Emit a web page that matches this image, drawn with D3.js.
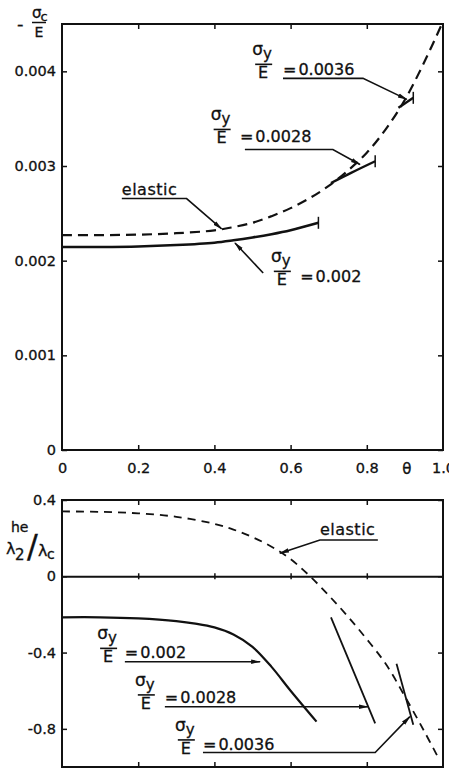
<!DOCTYPE html>
<html>
<head>
<meta charset="utf-8">
<script src="https://cdn.jsdelivr.net/npm/d3@7"></script>
<style>
    body { margin: 0; background: #fff; }
    svg text { font-family: "DejaVu Sans", sans-serif; fill: #111; stroke: #111; stroke-width: 0.3; }
</style>
</head>
<body>
<div id="chart"></div>
<script>
//Ticks
let theta_ticks = [0, 0.2, 0.4, 0.6, 0.8, 1.0];
let stress_ticks = [0, 0.001, 0.002, 0.003, 0.004];
let ratio_ticks = [0.4, 0, -0.4, -0.8];

//Panel superior: -sigma_c / E frente a theta
let elastic_top = [[0, 0.00227], [0.1, 0.00227], [0.2, 0.002275], [0.3, 0.00229], [0.4, 0.00232], [0.45, 0.002355], [0.5, 0.0024], [0.55, 0.00247], [0.6, 0.002555], [0.65, 0.00266], [0.7, 0.00279], [0.75, 0.00295], [0.8, 0.00314], [0.85, 0.00339], [0.9, 0.0037], [0.95, 0.00409], [0.997, 0.0045]];
let yield_002_top = [[0, 0.002145], [0.1, 0.002145], [0.2, 0.00215], [0.3, 0.002165], [0.4, 0.00219], [0.45, 0.002215], [0.5, 0.002245], [0.55, 0.00228], [0.6, 0.002322], [0.673, 0.0024]];
let yield_0028_top = [[0.706, 0.00282], [0.76, 0.00293], [0.822, 0.00305]];
let yield_0036_top = [[0.883, 0.003615], [0.922, 0.00372]];

//Panel inferior: lambda_2^he / lambda_c frente a theta
let elastic_bottom = [[0, 0.34], [0.1, 0.338], [0.2, 0.33], [0.3, 0.312], [0.4, 0.275], [0.45, 0.245], [0.5, 0.205], [0.55, 0.155], [0.6, 0.09], [0.651, 0], [0.7, -0.1], [0.75, -0.21], [0.8, -0.33], [0.85, -0.46], [0.9, -0.63], [0.95, -0.81], [0.99, -0.96]];
let yield_002_bottom = [[0, -0.215], [0.1, -0.215], [0.2, -0.221], [0.3, -0.235], [0.35, -0.248], [0.4, -0.268], [0.45, -0.305], [0.5, -0.37], [0.55, -0.475], [0.6, -0.6], [0.668, -0.762]];
let yield_0028_bottom = [[0.706, -0.215], [0.822, -0.771]];
let yield_0036_bottom = [[0.878, -0.459], [0.922, -0.779]];

let W = 449, H = 770;
let margin = {left: 62, right: 6};
let topPanel = {top: 24, bottom: 450};
let bottomPanel = {top: 500, bottom: 767};

let svg = d3.select('#chart').append('svg')
    .attr('width', W)
    .attr('height', H);

//Flecha para las etiquetas
svg.append('defs').append('marker')
    .attr('id', 'arrow')
    .attr('markerUnits', 'userSpaceOnUse')
    .attr('viewBox', '0 -4 10 8')
    .attr('markerWidth', 10)
    .attr('markerHeight', 8)
    .attr('refX', 9)
    .attr('refY', 0)
    .attr('orient', 'auto')
    .append('path')
    .attr('d', 'M0,-2.2L10,0L0,2.2Z')
    .attr('fill', '#111');

let x = d3.scaleLinear().domain([0, 1]).range([margin.left, W - margin.right]);
let yTop = d3.scaleLinear().domain([0, 0.0045]).range([topPanel.bottom, topPanel.top]);
let yBottom = d3.scaleLinear().domain([-1.0, 0.4]).range([bottomPanel.bottom, bottomPanel.top]);

let line = function(y) {
    return d3.line()
        .x(function(d) { return x(d[0]); })
        .y(function(d) { return y(d[1]); })
        .curve(d3.curveCatmullRom.alpha(0.5));
};

function cleanAxis(g) {
    g.select('.domain').remove();
    g.selectAll('.tick line').attr('stroke', '#111').attr('stroke-width', 1.5);
    g.selectAll('.tick text').attr('font-size', 14.5).attr('fill', '#111');
}

function drawFrame(y, panel, yTicks, yFormat, showX) {
    let inner = theta_ticks.slice(1, -1);
    svg.append('g')
        .attr('transform', `translate(0,${panel.bottom})`)
        .call(d3.axisBottom(x).tickValues(showX ? theta_ticks : inner).tickSize(-5).tickPadding(13)
            .tickFormat(function(d) { return showX ? (d === 0 ? '0' : d.toFixed(1)) : ''; }))
        .call(cleanAxis)
        .call(function(g) {
            g.selectAll('.tick line').filter(function(d) { return d === 0 || d === 1; }).remove();
        });
    svg.append('g')
        .attr('transform', `translate(0,${panel.top})`)
        .call(d3.axisTop(x).tickValues(inner).tickSize(-5).tickFormat(''))
        .call(cleanAxis);
    svg.append('g')
        .attr('transform', `translate(${margin.left},0)`)
        .call(d3.axisLeft(y).tickValues(yTicks).tickSize(-5).tickPadding(6).tickFormat(yFormat))
        .call(cleanAxis);
    svg.append('g')
        .attr('transform', `translate(${W - margin.right},0)`)
        .call(d3.axisRight(y).tickValues(yTicks).tickSize(-5).tickFormat(''))
        .call(cleanAxis);
    svg.append('rect')
        .attr('x', margin.left)
        .attr('y', panel.top)
        .attr('width', W - margin.left - margin.right)
        .attr('height', panel.bottom - panel.top)
        .attr('fill', 'none')
        .attr('stroke', '#111')
        .attr('stroke-width', 2);
}

function drawCurve(data, y, width, dash) {
    svg.append('path')
        .datum(data)
        .attr('d', line(y))
        .attr('fill', 'none')
        .attr('stroke', '#111')
        .attr('stroke-width', width)
        .attr('stroke-dasharray', dash || null);
}

function endBar(data, y) {
    let last = data[data.length - 1];
    svg.append('line')
        .attr('x1', x(last[0])).attr('x2', x(last[0]))
        .attr('y1', y(last[1]) - 6).attr('y2', y(last[1]) + 6)
        .attr('stroke', '#111')
        .attr('stroke-width', 1.5);
}

function leader(points, y) {
    svg.append('path')
        .datum(points)
        .attr('d', d3.line().x(function(d) { return x(d[0]); }).y(function(d) { return y(d[1]); }))
        .attr('fill', 'none')
        .attr('stroke', '#111')
        .attr('stroke-width', 1.6)
        .attr('marker-end', 'url(#arrow)');
}

//Etiqueta tipo sigma_y / E = valor
function yieldLabel(cx, barV, textX, textV, value, y) {
    let g = svg.append('g');
    let bx = x(cx), by = y(barV);
    let s = g.append('text')
        .attr('x', bx - 1)
        .attr('y', by - 9)
        .attr('text-anchor', 'middle')
        .attr('font-size', 17)
        .text('σ');
    s.append('tspan').attr('dy', 4).attr('font-size', 15).text('y');
    g.append('line')
        .attr('x1', bx - 8).attr('x2', bx + 9)
        .attr('y1', by).attr('y2', by)
        .attr('stroke', '#111').attr('stroke-width', 1.6);
    g.append('text')
        .attr('x', bx)
        .attr('y', by + 14)
        .attr('text-anchor', 'middle')
        .attr('font-size', 16)
        .text('E');
    let t = g.append('text')
        .attr('x', x(textX))
        .attr('y', y(textV))
        .attr('font-size', 16)
        .text('=');
    t.append('tspan').attr('dx', 2).text(value);
}

function plainLabel(tx, tv, text, y) {
    svg.append('text')
        .attr('x', x(tx))
        .attr('y', y(tv))
        .attr('font-size', 16)
        .attr('letter-spacing', 0.5)
        .text(text);
}

//Panel superior
drawFrame(yTop, topPanel, stress_ticks, function(d) { return d === 0 ? '0' : d.toFixed(3); }, true);

svg.append('text')
    .attr('x', x(0.905))
    .attr('y', topPanel.bottom + 24)
    .attr('text-anchor', 'middle')
    .attr('font-size', 15)
    .text('θ');

drawCurve(elastic_top, yTop, 2.2, '10,6');
drawCurve(yield_002_top, yTop, 2.6);
drawCurve(yield_0028_top, yTop, 2.4);
drawCurve(yield_0036_top, yTop, 2.4);
endBar(yield_002_top, yTop);
endBar(yield_0028_top, yTop);
endBar(yield_0036_top, yTop);

plainLabel(0.157, 0.002698, 'elastic', yTop);
leader([[0.157, 0.002656], [0.327, 0.002656], [0.419, 0.002335]], yTop);

yieldLabel(0.528, 0.004074, 0.58, 0.003958, '0.0036', yTop);
leader([[0.58, 0.003926], [0.79, 0.003926], [0.905, 0.003704]], yTop);

yieldLabel(0.419, 0.003386, 0.467, 0.003249, '0.0028', yTop);
leader([[0.48, 0.003175], [0.711, 0.003175], [0.782, 0.003016]], yTop);

yieldLabel(0.577, 0.001887, 0.625, 0.001778, '0.002', yTop);
leader([[0.528, 0.00187], [0.454, 0.002187]], yTop);

//Etiqueta eje Y superior
svg.append('text').attr('x', 17).attr('y', 30).attr('font-size', 18).text('-');
let sc = svg.append('text').attr('x', 32).attr('y', 18).attr('font-size', 15).text('σ');
sc.append('tspan').attr('dx', -1).attr('dy', 3).attr('font-size', 13).text('c');
svg.append('line').attr('x1', 32).attr('x2', 46).attr('y1', 22.5).attr('y2', 22.5).attr('stroke', '#111').attr('stroke-width', 1.5);
svg.append('text').attr('x', 39).attr('y', 37).attr('text-anchor', 'middle').attr('font-size', 14).text('E');

//Panel inferior
drawFrame(yBottom, bottomPanel, ratio_ticks, function(d) { return d === 0 ? '0' : d.toFixed(1); }, false);

//Linea de cero con sus marcas
svg.append('g')
    .attr('transform', `translate(0,${yBottom(0)})`)
    .call(d3.axisBottom(x).tickValues(theta_ticks.slice(1, -1)).tickSizeInner(3).tickSizeOuter(0).tickFormat(''))
    .call(function(g) {
        g.select('.domain').attr('stroke', '#111').attr('stroke-width', 2);
        g.selectAll('.tick line').attr('stroke', '#111').attr('stroke-width', 1.5).attr('y1', -3);
    });

drawCurve(elastic_bottom, yBottom, 1.8, '8,6');
drawCurve(yield_002_bottom, yBottom, 2.2);
drawCurve(yield_0028_bottom, yBottom, 1.8);
drawCurve(yield_0036_bottom, yBottom, 1.8);

plainLabel(0.677, 0.217, 'elastic', yBottom);
leader([[0.829, 0.19], [0.677, 0.19], [0.572, 0.121]], yBottom);

yieldLabel(0.121, -0.378, 0.165, -0.428, '0.002', yBottom);
leader([[0.165, -0.448], [0.52, -0.448]], yBottom);

yieldLabel(0.22, -0.622, 0.27, -0.665, '0.0028', yBottom);
leader([[0.27, -0.684], [0.803, -0.684]], yBottom);

yieldLabel(0.325, -0.858, 0.37, -0.911, '0.0036', yBottom);
leader([[0.37, -0.924], [0.822, -0.924], [0.913, -0.736]], yBottom);

//Etiqueta eje Y inferior
svg.append('text').attr('x', 6).attr('y', 554).attr('font-size', 16).text('λ');
svg.append('text').attr('x', 11).attr('y', 532).attr('font-size', 14).text('he');
svg.append('text').attr('x', 15).attr('y', 560).attr('font-size', 15).text('2');
svg.append('text').attr('x', 27).attr('y', 557).attr('font-size', 32).attr('stroke-width', 0).text('/');
svg.append('text').attr('x', 38).attr('y', 556).attr('font-size', 16).text('λ');
svg.append('text').attr('x', 47).attr('y', 559).attr('font-size', 14).text('c');
</script>
</body>
</html>
